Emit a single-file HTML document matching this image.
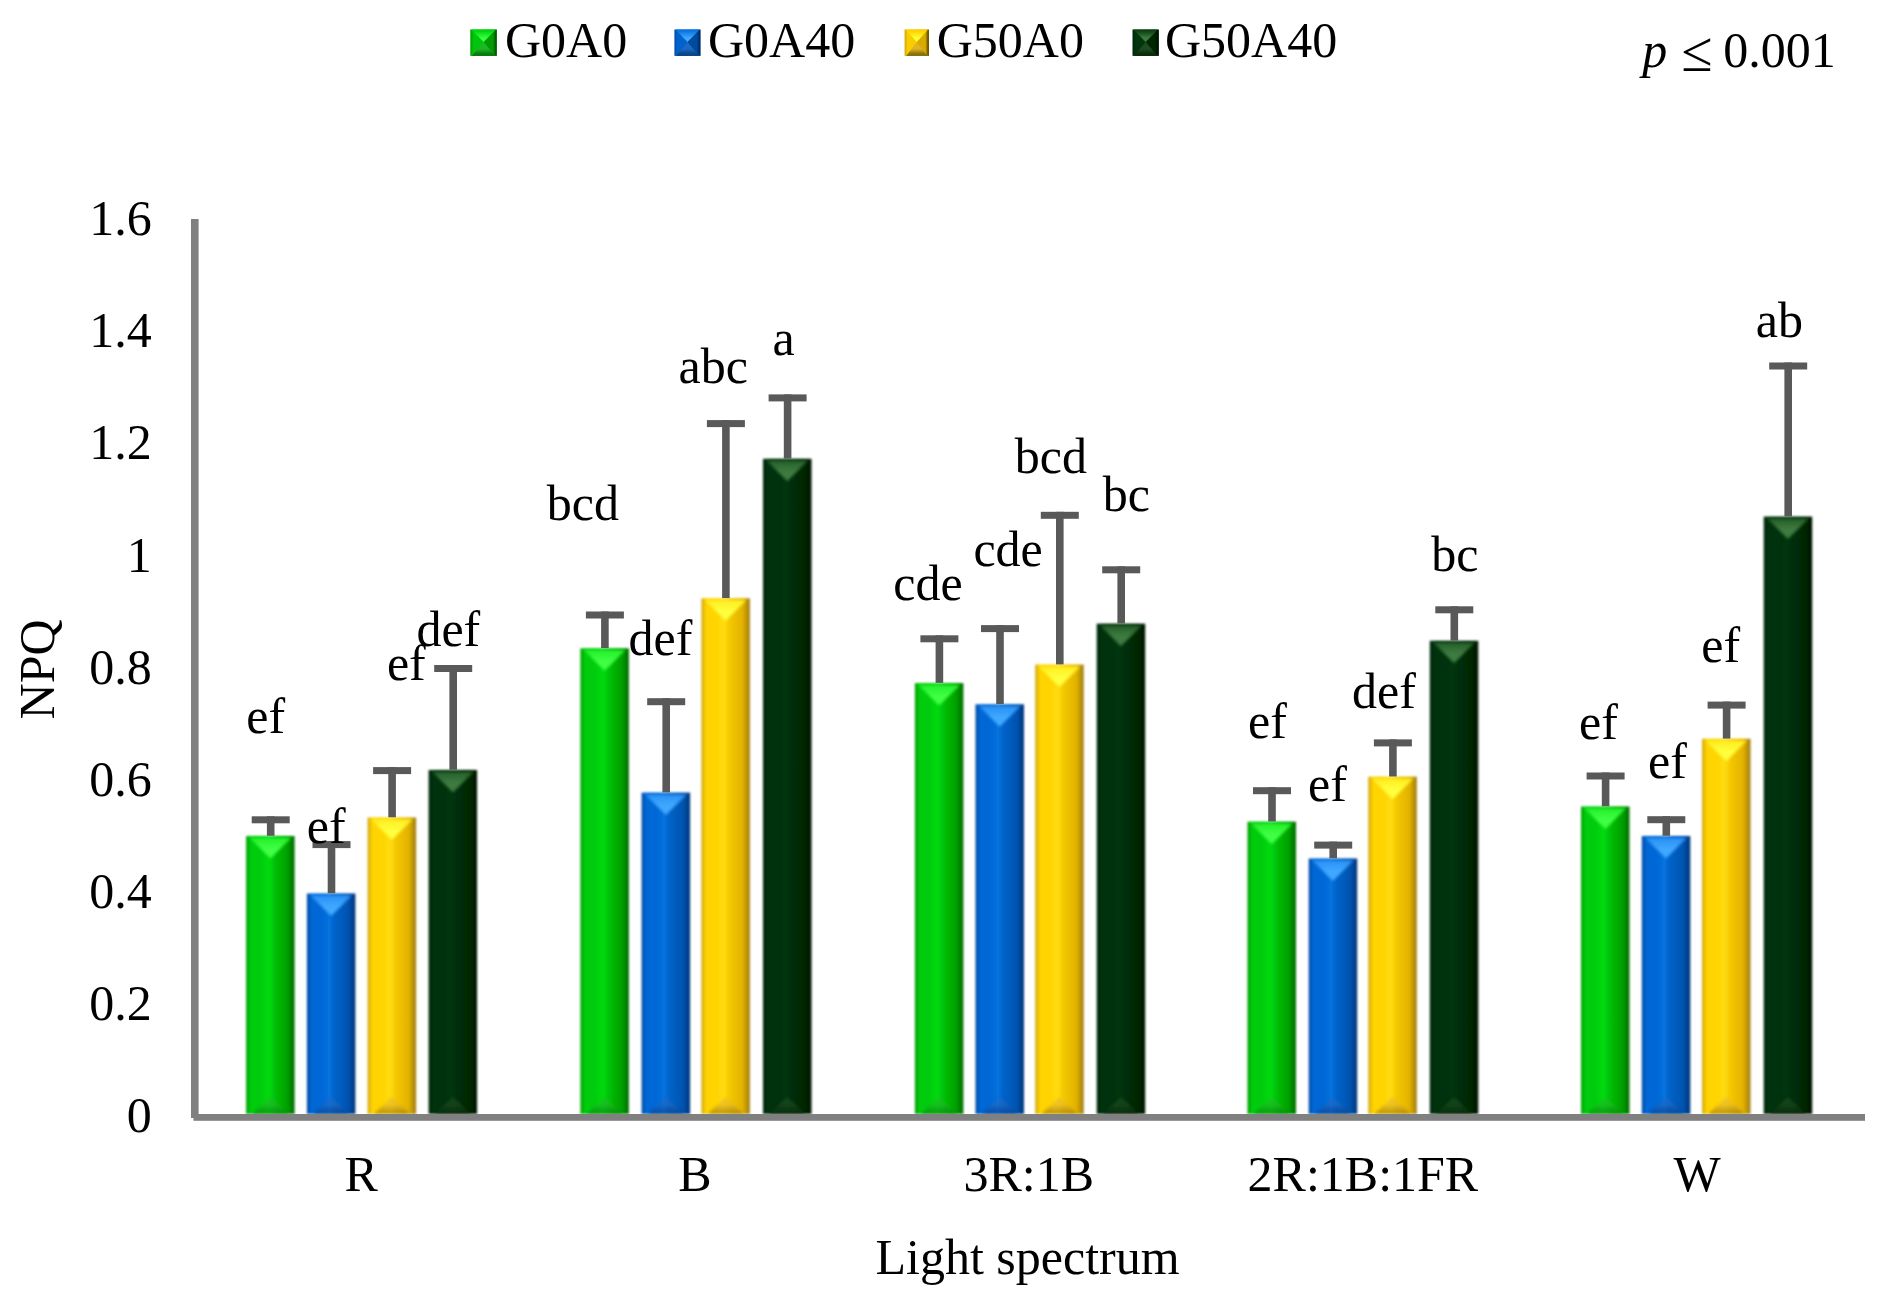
<!DOCTYPE html>
<html lang="en"><head><meta charset="utf-8"><title>NPQ by light spectrum</title>
<style>html,body{margin:0;padding:0;background:#fff}body{width:1888px;height:1304px;overflow:hidden}svg{display:block}text{font-family:"Liberation Serif","Times New Roman",serif;font-size:50px;fill:#000}</style></head><body>
<svg width="1888" height="1304" viewBox="0 0 1888 1304">
<defs>
<linearGradient id="g0" x1="0" y1="0" x2="1" y2="0"><stop offset="0" stop-color="#00a004"/><stop offset="0.1" stop-color="#00cc0a"/><stop offset="0.3" stop-color="#00cc0a"/><stop offset="0.47" stop-color="#00dc0c"/><stop offset="0.58" stop-color="#00c208"/><stop offset="0.85" stop-color="#00a000"/><stop offset="1" stop-color="#006c00"/></linearGradient>
<linearGradient id="g1" x1="0" y1="0" x2="1" y2="0"><stop offset="0" stop-color="#004ca4"/><stop offset="0.1" stop-color="#0068d6"/><stop offset="0.3" stop-color="#0068d6"/><stop offset="0.47" stop-color="#0872de"/><stop offset="0.58" stop-color="#0062c8"/><stop offset="0.85" stop-color="#0054b0"/><stop offset="1" stop-color="#003478"/></linearGradient>
<linearGradient id="g2" x1="0" y1="0" x2="1" y2="0"><stop offset="0" stop-color="#d0a614"/><stop offset="0.1" stop-color="#ffd400"/><stop offset="0.3" stop-color="#ffd400"/><stop offset="0.47" stop-color="#ffdc10"/><stop offset="0.58" stop-color="#f4c800"/><stop offset="0.85" stop-color="#e2b200"/><stop offset="1" stop-color="#9c7a10"/></linearGradient>
<linearGradient id="g3" x1="0" y1="0" x2="1" y2="0"><stop offset="0" stop-color="#042808"/><stop offset="0.1" stop-color="#053109"/><stop offset="0.3" stop-color="#053109"/><stop offset="0.47" stop-color="#06360a"/><stop offset="0.58" stop-color="#042f08"/><stop offset="0.85" stop-color="#032705"/><stop offset="1" stop-color="#011602"/></linearGradient>
<linearGradient id="tg0" x1="0" y1="0" x2="0" y2="1"><stop offset="0" stop-color="#22f02a"/><stop offset="0.55" stop-color="#40ff44"/></linearGradient>
<linearGradient id="tg1" x1="0" y1="0" x2="0" y2="1"><stop offset="0" stop-color="#2890f4"/><stop offset="0.55" stop-color="#40a8ff"/></linearGradient>
<linearGradient id="tg2" x1="0" y1="0" x2="0" y2="1"><stop offset="0" stop-color="#ffec20"/><stop offset="0.55" stop-color="#ffff3c"/></linearGradient>
<linearGradient id="tg3" x1="0" y1="0" x2="0" y2="1"><stop offset="0" stop-color="#245e28"/><stop offset="0.55" stop-color="#3e7c40"/></linearGradient>
<linearGradient id="bg0" x1="0" y1="0" x2="0" y2="1"><stop offset="0.45" stop-color="#1eb826"/><stop offset="0.9" stop-color="#0a8410"/></linearGradient>
<linearGradient id="bg1" x1="0" y1="0" x2="0" y2="1"><stop offset="0.45" stop-color="#1c68c4"/><stop offset="0.9" stop-color="#0c448c"/></linearGradient>
<linearGradient id="bg2" x1="0" y1="0" x2="0" y2="1"><stop offset="0.45" stop-color="#e8b828"/><stop offset="0.9" stop-color="#a07a10"/></linearGradient>
<linearGradient id="bg3" x1="0" y1="0" x2="0" y2="1"><stop offset="0.45" stop-color="#1e4c20"/><stop offset="0.9" stop-color="#0a2c0c"/></linearGradient>
<filter id="soft" x="-5%" y="-5%" width="110%" height="110%"><feGaussianBlur stdDeviation="0.9"/></filter><filter id="softl" x="-10%" y="-10%" width="120%" height="120%"><feGaussianBlur stdDeviation="0.7"/></filter>
<filter id="soft2" x="-20%" y="-20%" width="140%" height="140%"><feGaussianBlur stdDeviation="1.4"/></filter>
</defs>
<rect width="1888" height="1304" fill="#fff"/>
<g filter="url(#soft)">
<rect x="246.1" y="836.0" width="48.5" height="278.0" fill="url(#g0)"/>
<rect x="306.9" y="893.5" width="48.5" height="220.5" fill="url(#g1)"/>
<rect x="367.6" y="817.5" width="48.5" height="296.5" fill="url(#g2)"/>
<rect x="428.6" y="770.0" width="48.5" height="344.0" fill="url(#g3)"/>
<rect x="580.4" y="648.3" width="48.5" height="465.7" fill="url(#g0)"/>
<rect x="641.6" y="792.6" width="48.5" height="321.4" fill="url(#g1)"/>
<rect x="701.4" y="598.3" width="48.5" height="515.7" fill="url(#g2)"/>
<rect x="763.0" y="458.8" width="48.5" height="655.2" fill="url(#g3)"/>
<rect x="914.9" y="683.1" width="48.5" height="430.9" fill="url(#g0)"/>
<rect x="975.5" y="704.3" width="48.5" height="409.7" fill="url(#g1)"/>
<rect x="1035.2" y="664.6" width="48.5" height="449.4" fill="url(#g2)"/>
<rect x="1096.7" y="623.7" width="48.5" height="490.3" fill="url(#g3)"/>
<rect x="1247.5" y="821.7" width="48.5" height="292.3" fill="url(#g0)"/>
<rect x="1308.7" y="858.5" width="48.5" height="255.5" fill="url(#g1)"/>
<rect x="1368.3" y="776.7" width="48.5" height="337.3" fill="url(#g2)"/>
<rect x="1429.8" y="640.8" width="48.5" height="473.2" fill="url(#g3)"/>
<rect x="1581.0" y="806.5" width="48.5" height="307.5" fill="url(#g0)"/>
<rect x="1641.8" y="836.0" width="48.5" height="278.0" fill="url(#g1)"/>
<rect x="1702.0" y="738.8" width="48.5" height="375.2" fill="url(#g2)"/>
<rect x="1763.7" y="516.6" width="48.5" height="597.4" fill="url(#g3)"/>
</g>
<g filter="url(#soft2)">
<polygon points="249.6,837.8 291.1,837.8 270.4,858.5" fill="url(#tg0)"/>
<polygon points="252.1,1114.0 288.6,1114.0 270.4,1097.0" fill="url(#bg0)" opacity="0.65"/>
<polygon points="310.4,895.3 351.9,895.3 331.2,916.0" fill="url(#tg1)"/>
<polygon points="312.9,1114.0 349.4,1114.0 331.2,1097.0" fill="url(#bg1)" opacity="0.65"/>
<polygon points="371.1,819.3 412.6,819.3 391.8,840.0" fill="url(#tg2)"/>
<polygon points="373.6,1114.0 410.1,1114.0 391.8,1097.0" fill="url(#bg2)" opacity="0.65"/>
<polygon points="432.1,771.8 473.6,771.8 452.9,792.5" fill="url(#tg3)"/>
<polygon points="434.6,1114.0 471.1,1114.0 452.9,1097.0" fill="url(#bg3)" opacity="0.65"/>
<polygon points="583.9,650.1 625.4,650.1 604.6,670.8" fill="url(#tg0)"/>
<polygon points="586.4,1114.0 622.9,1114.0 604.6,1097.0" fill="url(#bg0)" opacity="0.65"/>
<polygon points="645.1,794.4 686.6,794.4 665.9,815.1" fill="url(#tg1)"/>
<polygon points="647.6,1114.0 684.1,1114.0 665.9,1097.0" fill="url(#bg1)" opacity="0.65"/>
<polygon points="704.9,600.1 746.4,600.1 725.6,620.8" fill="url(#tg2)"/>
<polygon points="707.4,1114.0 743.9,1114.0 725.6,1097.0" fill="url(#bg2)" opacity="0.65"/>
<polygon points="766.5,460.6 808.0,460.6 787.3,481.3" fill="url(#tg3)"/>
<polygon points="769.0,1114.0 805.5,1114.0 787.3,1097.0" fill="url(#bg3)" opacity="0.65"/>
<polygon points="918.4,684.9 959.9,684.9 939.1,705.6" fill="url(#tg0)"/>
<polygon points="920.9,1114.0 957.4,1114.0 939.1,1097.0" fill="url(#bg0)" opacity="0.65"/>
<polygon points="979.0,706.1 1020.5,706.1 999.7,726.8" fill="url(#tg1)"/>
<polygon points="981.5,1114.0 1018.0,1114.0 999.7,1097.0" fill="url(#bg1)" opacity="0.65"/>
<polygon points="1038.8,666.4 1080.2,666.4 1059.5,687.1" fill="url(#tg2)"/>
<polygon points="1041.2,1114.0 1077.8,1114.0 1059.5,1097.0" fill="url(#bg2)" opacity="0.65"/>
<polygon points="1100.2,625.5 1141.7,625.5 1120.9,646.2" fill="url(#tg3)"/>
<polygon points="1102.7,1114.0 1139.2,1114.0 1120.9,1097.0" fill="url(#bg3)" opacity="0.65"/>
<polygon points="1251.0,823.5 1292.5,823.5 1271.7,844.2" fill="url(#tg0)"/>
<polygon points="1253.5,1114.0 1290.0,1114.0 1271.7,1097.0" fill="url(#bg0)" opacity="0.65"/>
<polygon points="1312.2,860.3 1353.7,860.3 1332.9,881.0" fill="url(#tg1)"/>
<polygon points="1314.7,1114.0 1351.2,1114.0 1332.9,1097.0" fill="url(#bg1)" opacity="0.65"/>
<polygon points="1371.8,778.5 1413.3,778.5 1392.6,799.2" fill="url(#tg2)"/>
<polygon points="1374.3,1114.0 1410.8,1114.0 1392.6,1097.0" fill="url(#bg2)" opacity="0.65"/>
<polygon points="1433.2,642.6 1474.8,642.6 1454.0,663.3" fill="url(#tg3)"/>
<polygon points="1435.8,1114.0 1472.2,1114.0 1454.0,1097.0" fill="url(#bg3)" opacity="0.65"/>
<polygon points="1584.5,808.3 1626.0,808.3 1605.3,829.0" fill="url(#tg0)"/>
<polygon points="1587.0,1114.0 1623.5,1114.0 1605.3,1097.0" fill="url(#bg0)" opacity="0.65"/>
<polygon points="1645.2,837.8 1686.8,837.8 1666.0,858.5" fill="url(#tg1)"/>
<polygon points="1647.8,1114.0 1684.2,1114.0 1666.0,1097.0" fill="url(#bg1)" opacity="0.65"/>
<polygon points="1705.5,740.6 1747.0,740.6 1726.3,761.3" fill="url(#tg2)"/>
<polygon points="1708.0,1114.0 1744.5,1114.0 1726.3,1097.0" fill="url(#bg2)" opacity="0.65"/>
<polygon points="1767.2,518.4 1808.7,518.4 1787.9,539.1" fill="url(#tg3)"/>
<polygon points="1769.7,1114.0 1806.2,1114.0 1787.9,1097.0" fill="url(#bg3)" opacity="0.65"/>
</g>
<g fill="#595959">
<rect x="251.7" y="816.3" width="38" height="7"/>
<rect x="266.9" y="816.3" width="7.6" height="19.5"/>
<rect x="312.5" y="841.1" width="38" height="7"/>
<rect x="327.7" y="841.1" width="7.6" height="52.2"/>
<rect x="373.1" y="767.1" width="38" height="7"/>
<rect x="388.3" y="767.1" width="7.6" height="50.2"/>
<rect x="434.2" y="665.0" width="38" height="7"/>
<rect x="449.4" y="665.0" width="7.6" height="104.8"/>
<rect x="585.9" y="611.5" width="38" height="7"/>
<rect x="601.1" y="611.5" width="7.6" height="36.6"/>
<rect x="647.2" y="698.2" width="38" height="7"/>
<rect x="662.4" y="698.2" width="7.6" height="94.2"/>
<rect x="706.9" y="420.1" width="38" height="7"/>
<rect x="722.1" y="420.1" width="7.6" height="178.0"/>
<rect x="768.6" y="394.4" width="38" height="7"/>
<rect x="783.8" y="394.4" width="7.6" height="64.2"/>
<rect x="920.4" y="635.3" width="38" height="7"/>
<rect x="935.6" y="635.3" width="7.6" height="47.6"/>
<rect x="981.0" y="625.1" width="38" height="7"/>
<rect x="996.2" y="625.1" width="7.6" height="79.0"/>
<rect x="1040.8" y="511.8" width="38" height="7"/>
<rect x="1056.0" y="511.8" width="7.6" height="152.6"/>
<rect x="1102.2" y="566.3" width="38" height="7"/>
<rect x="1117.4" y="566.3" width="7.6" height="57.2"/>
<rect x="1253.0" y="787.2" width="38" height="7"/>
<rect x="1268.2" y="787.2" width="7.6" height="34.3"/>
<rect x="1314.2" y="841.6" width="38" height="7"/>
<rect x="1329.4" y="841.6" width="7.6" height="16.7"/>
<rect x="1373.9" y="739.4" width="38" height="7"/>
<rect x="1389.1" y="739.4" width="7.6" height="37.1"/>
<rect x="1435.3" y="606.3" width="38" height="7"/>
<rect x="1450.5" y="606.3" width="7.6" height="34.3"/>
<rect x="1586.6" y="772.5" width="38" height="7"/>
<rect x="1601.8" y="772.5" width="7.6" height="33.8"/>
<rect x="1647.3" y="816.2" width="38" height="7"/>
<rect x="1662.5" y="816.2" width="7.6" height="19.6"/>
<rect x="1707.6" y="701.6" width="38" height="7"/>
<rect x="1722.8" y="701.6" width="7.6" height="37.0"/>
<rect x="1769.2" y="362.5" width="38" height="7"/>
<rect x="1784.4" y="362.5" width="7.6" height="153.9"/>
</g>
<g fill="#808080"><rect x="191" y="219" width="7.6" height="899"/><rect x="193.5" y="1114" width="1671.5" height="6.8"/></g>
<text x="151.7" y="1132.0" text-anchor="end">0</text>
<text x="151.7" y="1020.0" text-anchor="end">0.2</text>
<text x="151.7" y="908.0" text-anchor="end">0.4</text>
<text x="151.7" y="796.0" text-anchor="end">0.6</text>
<text x="151.7" y="684.0" text-anchor="end">0.8</text>
<text x="151.7" y="572.0" text-anchor="end">1</text>
<text x="151.7" y="459.0" text-anchor="end">1.2</text>
<text x="151.7" y="347.0" text-anchor="end">1.4</text>
<text x="151.7" y="235.0" text-anchor="end">1.6</text>
<text x="361.3" y="1191" text-anchor="middle">R</text>
<text x="695.0" y="1191" text-anchor="middle">B</text>
<text x="1028.7" y="1191" text-anchor="middle">3R:1B</text>
<text x="1362.9" y="1191" text-anchor="middle">2R:1B:1FR</text>
<text x="1697.0" y="1191" text-anchor="middle">W</text>
<text x="246.2" y="732.6">ef</text>
<text x="306.8" y="843.0">ef</text>
<text x="386.9" y="680.1">ef</text>
<text x="416.4" y="646.2">def</text>
<text x="546.8" y="519.6">bcd</text>
<text x="628.5" y="655.1">def</text>
<text x="678.6" y="382.9">abc</text>
<text x="772.5" y="355.2">a</text>
<text x="893.2" y="600.2">cde</text>
<text x="973.4" y="566.3">cde</text>
<text x="1014.8" y="473.2">bcd</text>
<text x="1102.8" y="510.5">bc</text>
<text x="1248.0" y="737.5">ef</text>
<text x="1308.0" y="801.0">ef</text>
<text x="1352.1" y="707.7">def</text>
<text x="1431.2" y="571.3">bc</text>
<text x="1579.0" y="738.8">ef</text>
<text x="1648.0" y="778.0">ef</text>
<text x="1701.3" y="662.1">ef</text>
<text x="1755.8" y="337.1">ab</text>
<text x="1027.6" y="1274" text-anchor="middle">Light spectrum</text>
<text transform="translate(53.8,669.4) rotate(-90)" text-anchor="middle">NPQ</text>
<text y="67" xml:space="preserve"><tspan x="1642.3" font-style="italic">p </tspan><tspan x="1681.3" dy="3.5" font-size="57">≤ </tspan><tspan x="1723.2" dy="-3.5">0.001</tspan></text>
<defs>
<linearGradient id="lb0" x1="0" y1="0" x2="1" y2="0"><stop offset="0" stop-color="#009c04"/><stop offset="0.12" stop-color="#00c408"/><stop offset="0.5" stop-color="#00c408"/><stop offset="0.5" stop-color="#009c04"/><stop offset="0.85" stop-color="#009c04"/><stop offset="0.95" stop-color="#005c00"/></linearGradient>
<linearGradient id="lt0" x1="0" y1="0" x2="0" y2="1"><stop offset="0.1" stop-color="#00d40a"/><stop offset="0.7" stop-color="#38ff40"/></linearGradient>
<linearGradient id="lo0" x1="0" y1="0" x2="0" y2="1"><stop offset="0" stop-color="#1eb826"/><stop offset="0.5" stop-color="#1eb826"/><stop offset="0.85" stop-color="#0a7a10"/></linearGradient>
<linearGradient id="lb1" x1="0" y1="0" x2="1" y2="0"><stop offset="0" stop-color="#004ea8"/><stop offset="0.12" stop-color="#0062cc"/><stop offset="0.5" stop-color="#0062cc"/><stop offset="0.5" stop-color="#004c9e"/><stop offset="0.85" stop-color="#004c9e"/><stop offset="0.95" stop-color="#002e6c"/></linearGradient>
<linearGradient id="lt1" x1="0" y1="0" x2="0" y2="1"><stop offset="0.1" stop-color="#0a72e2"/><stop offset="0.7" stop-color="#40a8ff"/></linearGradient>
<linearGradient id="lo1" x1="0" y1="0" x2="0" y2="1"><stop offset="0" stop-color="#1c68c4"/><stop offset="0.5" stop-color="#1c68c4"/><stop offset="0.85" stop-color="#0c4488"/></linearGradient>
<linearGradient id="lb2" x1="0" y1="0" x2="1" y2="0"><stop offset="0" stop-color="#d0a400"/><stop offset="0.12" stop-color="#f8cc00"/><stop offset="0.5" stop-color="#f8cc00"/><stop offset="0.5" stop-color="#d8aa00"/><stop offset="0.85" stop-color="#d8aa00"/><stop offset="0.95" stop-color="#6e5800"/></linearGradient>
<linearGradient id="lt2" x1="0" y1="0" x2="0" y2="1"><stop offset="0.1" stop-color="#ffd000"/><stop offset="0.7" stop-color="#ffff30"/></linearGradient>
<linearGradient id="lo2" x1="0" y1="0" x2="0" y2="1"><stop offset="0" stop-color="#e0b420"/><stop offset="0.5" stop-color="#e0b420"/><stop offset="0.85" stop-color="#8a7010"/></linearGradient>
<linearGradient id="lb3" x1="0" y1="0" x2="1" y2="0"><stop offset="0" stop-color="#042806"/><stop offset="0.12" stop-color="#06340a"/><stop offset="0.5" stop-color="#06340a"/><stop offset="0.5" stop-color="#032605"/><stop offset="0.85" stop-color="#032605"/><stop offset="0.95" stop-color="#011802"/></linearGradient>
<linearGradient id="lt3" x1="0" y1="0" x2="0" y2="1"><stop offset="0.1" stop-color="#0c400f"/><stop offset="0.7" stop-color="#3c7c3e"/></linearGradient>
<linearGradient id="lo3" x1="0" y1="0" x2="0" y2="1"><stop offset="0" stop-color="#1e4c20"/><stop offset="0.5" stop-color="#1e4c20"/><stop offset="0.85" stop-color="#0a2c0c"/></linearGradient>
</defs>
<g filter="url(#softl)">
<rect x="470.3" y="29.5" width="26.6" height="26.4" fill="url(#lb0)"/>
<polygon points="471.3,29.5 495.9,29.5 483.6,41.9" fill="url(#lt0)"/>
<polygon points="471.8,55.9 495.4,55.9 483.6,41.9" fill="url(#lo0)"/>
<rect x="674.4" y="29.5" width="26.2" height="26.4" fill="url(#lb1)"/>
<polygon points="675.4,29.5 699.6,29.5 687.5,41.9" fill="url(#lt1)"/>
<polygon points="675.9,55.9 699.1,55.9 687.5,41.9" fill="url(#lo1)"/>
<rect x="904.6" y="29.5" width="24.4" height="26.4" fill="url(#lb2)"/>
<polygon points="905.6,29.5 928.0,29.5 916.8,41.9" fill="url(#lt2)"/>
<polygon points="906.1,55.9 927.5,55.9 916.8,41.9" fill="url(#lo2)"/>
<rect x="1132.5" y="29.5" width="26.4" height="26.4" fill="url(#lb3)"/>
<polygon points="1133.5,29.5 1157.9,29.5 1145.7,41.9" fill="url(#lt3)"/>
<polygon points="1134.0,55.9 1157.4,55.9 1145.7,41.9" fill="url(#lo3)"/>
</g>
<text x="505.0" y="57">G0A0</text>
<text x="708.0" y="57">G0A40</text>
<text x="936.7" y="57">G50A0</text>
<text x="1165.0" y="57">G50A40</text>
</svg></body></html>
